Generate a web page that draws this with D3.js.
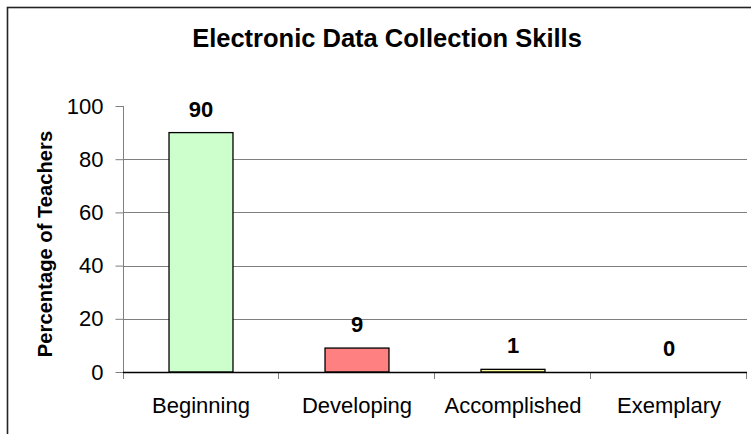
<!DOCTYPE html>
<html>
<head>
<meta charset="utf-8">
<script src="https://cdn.jsdelivr.net/npm/d3@7"></script>
<style>
  html, body { margin: 0; padding: 0; background: #fff; }
  svg { display: block; font-family: "Liberation Sans", Arial, sans-serif; }
</style>
</head>
<body>
<div id="chart"></div>
<script>
// Chart data
const categories = ["Beginning", "Developing", "Accomplished", "Exemplary"];
const values = [90, 9, 1, 0];
const barColors = ["#ccffcc", "#ff8080", "#ffff99", "#ccccff"];
const yTicks = [0, 20, 40, 60, 80, 100];

const W = 751, H = 434;
const plot = { left: 123, right: 747, top: 106, bottom: 372 };

const svg = d3.select("#chart").append("svg")
    .attr("width", W)
    .attr("height", H);

// Outer chart border (runs off the right and bottom of the picture)
svg.append("rect")
    .attr("x", 7.5).attr("y", 7.5)
    .attr("width", W + 20).attr("height", H + 20)
    .attr("fill", "none")
    .attr("stroke", "#222")
    .attr("stroke-width", 1.6);

const x = d3.scaleBand()
    .domain(categories)
    .range([plot.left, plot.right])
    .padding(0);

const y = d3.scaleLinear()
    .domain([0, 100])
    .range([plot.bottom, plot.top]);

// Gridlines (none at the top value)
svg.append("g")
    .selectAll("line")
    .data(yTicks.filter(t => t > 0 && t < 100))
    .join("line")
    .attr("x1", plot.left).attr("x2", plot.right)
    .attr("y1", d => Math.round(y(d)) + 0.5)
    .attr("y2", d => Math.round(y(d)) + 0.5)
    .attr("stroke", "#7f7f7f")
    .attr("stroke-width", 1);

// Y axis
const yAxis = svg.append("g")
    .attr("transform", `translate(${plot.left + 0.5},0)`)
    .call(d3.axisLeft(y).tickValues(yTicks).tickSize(8).tickPadding(12));
yAxis.select(".domain")
    .attr("stroke", "#7f7f7f")
    .attr("d", `M0,${plot.top}V${plot.bottom + 7}`);
yAxis.selectAll(".tick line").attr("stroke", "#7f7f7f");
yAxis.selectAll(".tick text")
    .attr("font-size", 22)
    .attr("fill", "#000")
    .attr("font-family", "Liberation Sans, Arial, sans-serif");

// X axis
const xAxis = svg.append("g")
    .attr("transform", `translate(0,${plot.bottom + 0.5})`)
    .call(d3.axisBottom(x).tickSize(0).tickPadding(25));
xAxis.select(".domain").remove();
xAxis.selectAll(".tick text")
    .attr("font-size", 22)
    .attr("fill", "#000")
    .attr("font-family", "Liberation Sans, Arial, sans-serif");

// Category separator ticks
const bounds = categories.map(c => x(c)).concat([plot.right]);
svg.append("g")
    .selectAll("line")
    .data(bounds.slice(1))
    .join("line")
    .attr("x1", d => Math.round(d) - 0.5).attr("x2", d => Math.round(d) - 0.5)
    .attr("y1", plot.bottom).attr("y2", plot.bottom + 7)
    .attr("stroke", "#7f7f7f");

// Bars
const barW = x.bandwidth() * 0.41;
const data = categories.map((c, i) => ({ cat: c, value: values[i], color: barColors[i] }));

svg.append("g")
    .selectAll("rect")
    .data(data.filter(d => d.value > 0))
    .join("rect")
    .attr("x", d => x(d.cat) + (x.bandwidth() - barW) / 2)
    .attr("y", d => y(d.value))
    .attr("width", barW)
    .attr("height", d => y(0) - y(d.value))
    .attr("fill", d => d.color)
    .attr("stroke", "#000")
    .attr("stroke-width", 1.3);

// Baseline at 0
svg.append("line")
    .attr("x1", plot.left).attr("x2", plot.right)
    .attr("y1", plot.bottom + 0.5).attr("y2", plot.bottom + 0.5)
    .attr("stroke", "#000")
    .attr("stroke-width", 1.3);

// Value labels
svg.append("g")
    .selectAll("text")
    .data(data)
    .join("text")
    .attr("x", d => x(d.cat) + x.bandwidth() / 2)
    .attr("y", d => y(d.value) - 16)
    .attr("text-anchor", "middle")
    .attr("font-size", 22)
    .attr("font-weight", "bold")
    .text(d => d.value);

// Title
svg.append("text")
    .attr("x", 387)
    .attr("y", 47)
    .attr("text-anchor", "middle")
    .attr("font-size", 25.5)
    .attr("font-weight", "bold")
    .text("Electronic Data Collection Skills");

// Y axis title
svg.append("text")
    .attr("transform", `translate(52,${(plot.top + plot.bottom) / 2 + 5}) rotate(-90)`)
    .attr("text-anchor", "middle")
    .attr("font-size", 20.2)
    .attr("font-weight", "bold")
    .text("Percentage of Teachers");
</script>
</body>
</html>
